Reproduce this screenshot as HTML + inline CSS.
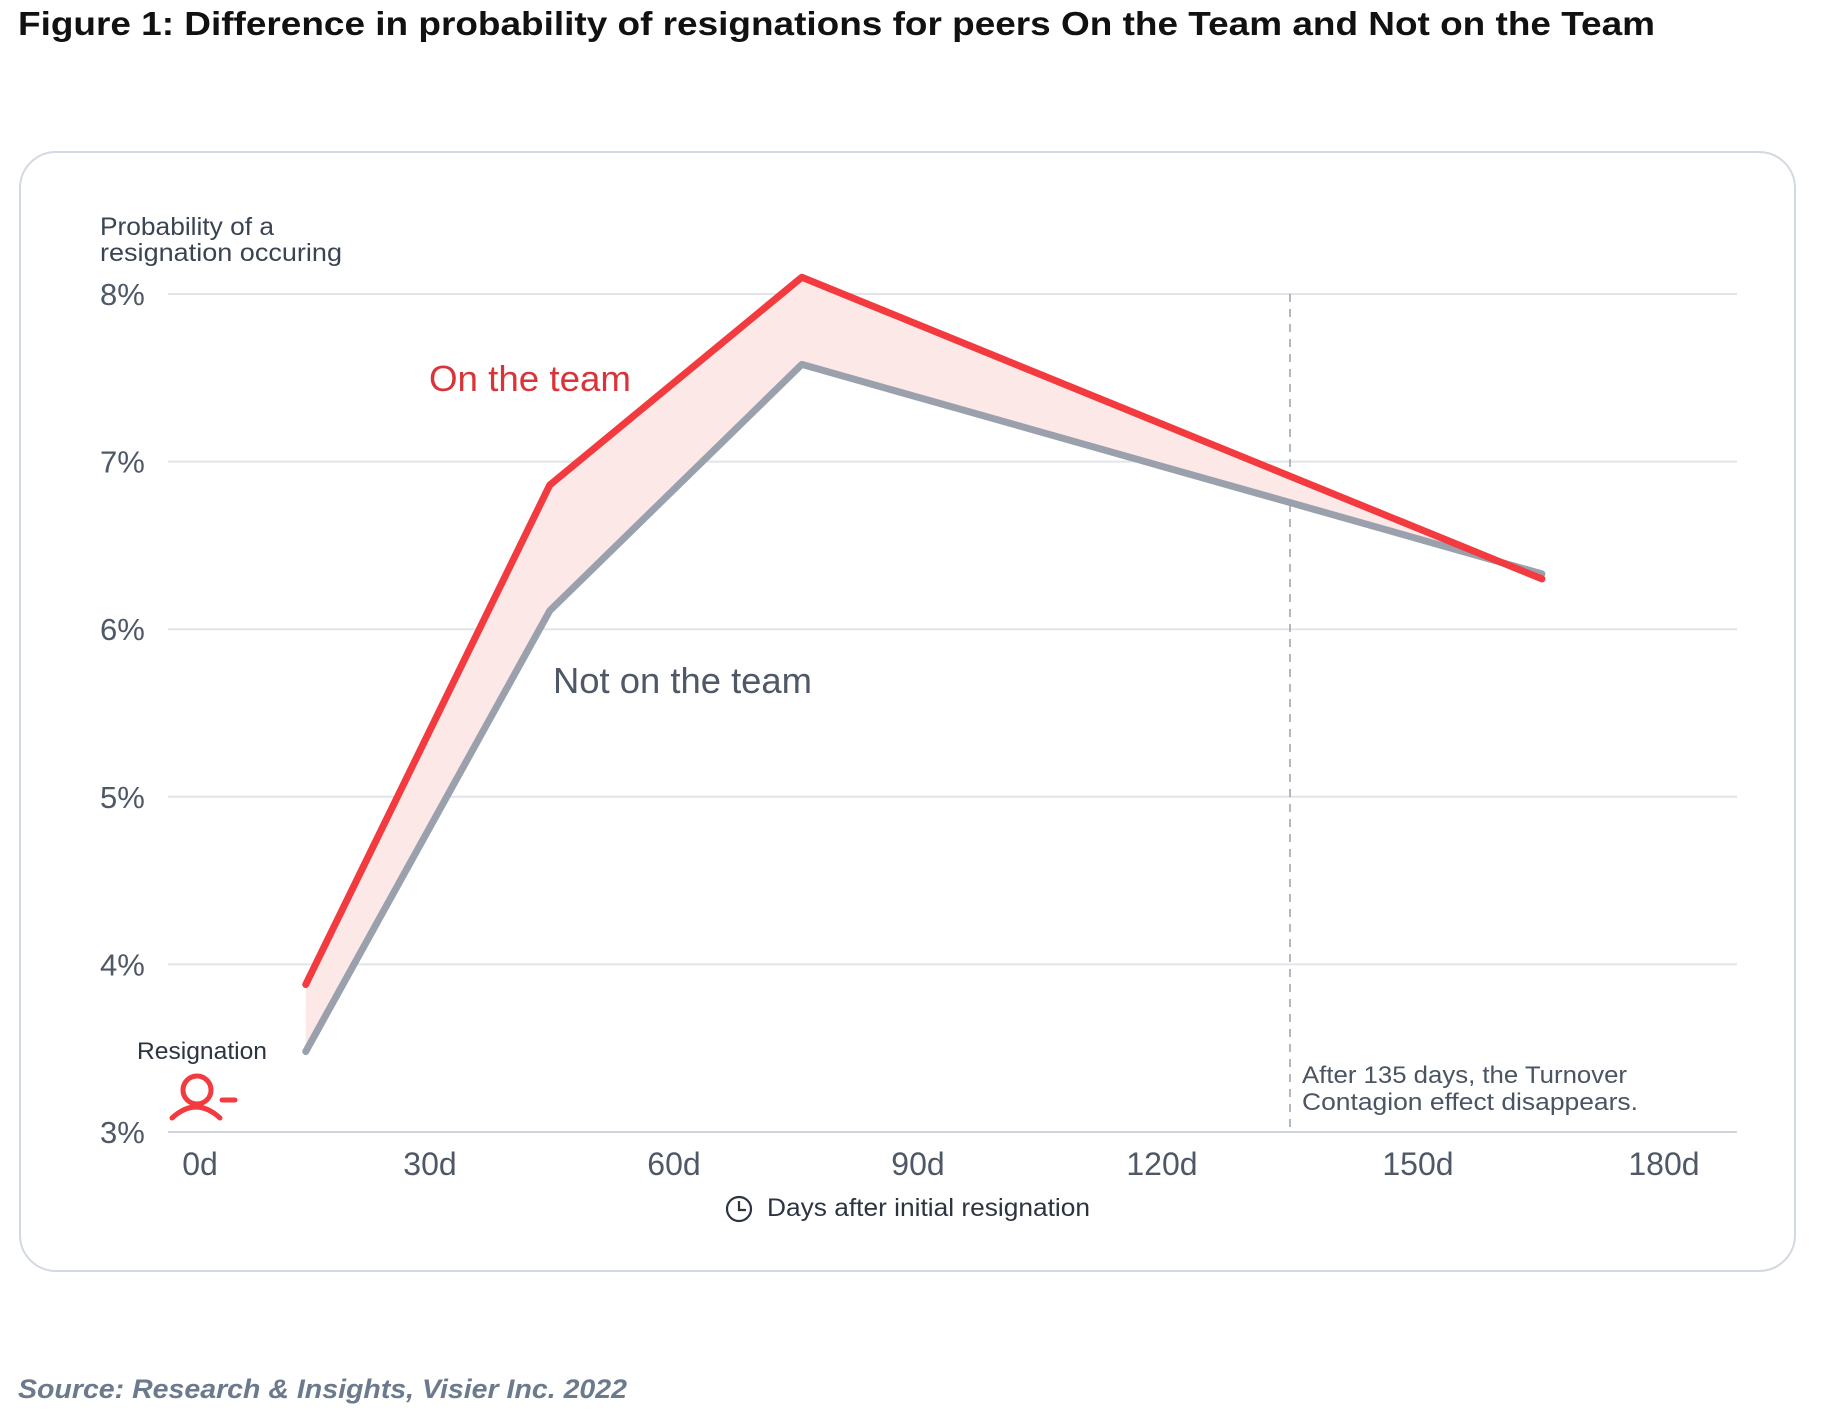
<!DOCTYPE html>
<html><head><meta charset="utf-8"><style>
html,body{margin:0;padding:0;background:#fff;}
body{width:1844px;height:1424px;position:relative;overflow:hidden;font-family:"Liberation Sans",sans-serif;}
</style></head><body>
<svg width="1844" height="1424" viewBox="0 0 1844 1424" style="position:absolute;left:0;top:0">
<text x="18" y="35" font-size="33" font-weight="bold" fill="#111" textLength="1637" lengthAdjust="spacingAndGlyphs">Figure 1: Difference in probability of resignations for peers On the Team and Not on the Team</text>
<rect x="20" y="152" width="1775" height="1119" rx="36" fill="#fff" stroke="#d3d9e0" stroke-width="2"/>
<text font-size="25" fill="#3a4452"><tspan x="100" y="235" textLength="174" lengthAdjust="spacingAndGlyphs">Probability of a</tspan><tspan x="100" y="261" textLength="242" lengthAdjust="spacingAndGlyphs">resignation occuring</tspan></text>
<g id="grid"></g>
<g id="yticks"></g>
<g id="xticks"></g>
<line x1="1290" y1="294" x2="1290" y2="1132" stroke="#9aa0a8" stroke-width="1.5" stroke-dasharray="8,7"/>
<polygon id="band" fill="#fde8e8"/>
<polyline id="gray" fill="none" stroke="#9aa1ac" stroke-width="7" stroke-linejoin="round" stroke-linecap="round"/>
<polyline id="red" fill="none" stroke="#f23a3f" stroke-width="7" stroke-linejoin="round" stroke-linecap="round"/>
<text x="429" y="391" font-size="36" fill="#d9343a" textLength="202" lengthAdjust="spacingAndGlyphs">On the team</text>
<text x="553" y="693" font-size="36" fill="#4e5866" textLength="259" lengthAdjust="spacingAndGlyphs">Not on the team</text>
<text x="137" y="1059" font-size="24" fill="#2c3440" textLength="130" lengthAdjust="spacingAndGlyphs">Resignation</text>
<g fill="none" stroke="#f23a3f" stroke-width="5" stroke-linecap="round">
<circle cx="197" cy="1090" r="14"/><path d="M172,1118 Q196,1096 220,1118"/><line x1="222" y1="1100" x2="235" y2="1100"/></g>
<text font-size="24" fill="#4a5462"><tspan x="1302" y="1083" textLength="325" lengthAdjust="spacingAndGlyphs">After 135 days, the Turnover</tspan><tspan x="1302" y="1110" textLength="336" lengthAdjust="spacingAndGlyphs">Contagion effect disappears.</tspan></text>
<g fill="none" stroke="#2c3440" stroke-width="2.2"><circle cx="739" cy="1209" r="12"/><path d="M739,1201 V1210 H746"/></g>
<text x="767" y="1216" font-size="25" fill="#2c3440" textLength="323" lengthAdjust="spacingAndGlyphs">Days after initial resignation</text>
<text x="18" y="1398" font-size="27" font-style="italic" font-weight="bold" fill="#6b7a8c" textLength="609" lengthAdjust="spacingAndGlyphs">Source: Research &amp; Insights, Visier Inc. 2022</text>
</svg>
<script>
const yTicks=[3,4,5,6,7,8];
const xTicks=[0,30,60,90,120,150,180];
const days=[13,43,74,165];
const onTeam=[3.88,6.86,8.10,6.30];
const notOnTeam=[3.48,6.11,7.58,6.33];
const X=d=>200+d*8.133;
const Y=p=>1132-(p-3)*167.6;
const NS='http://www.w3.org/2000/svg';
const grid=document.getElementById('grid'),yt=document.getElementById('yticks'),xt=document.getElementById('xticks');
yTicks.forEach(v=>{
 const l=document.createElementNS(NS,'line');
 l.setAttribute('x1',168);l.setAttribute('x2',1737);l.setAttribute('y1',Y(v));l.setAttribute('y2',Y(v));
 l.setAttribute('stroke',v===3?'#cfd4da':'#e1e5e9');l.setAttribute('stroke-width',2);
 
 
 grid.appendChild(l);
 const t=document.createElementNS(NS,'text');
 t.setAttribute('x',100);t.setAttribute('y',Y(v)+11);t.setAttribute('font-size',31);t.setAttribute('fill','#4e5866');
 t.textContent=v+'%';
 
 
 yt.appendChild(t);
});
xTicks.forEach(v=>{
 const t=document.createElementNS(NS,'text');
 t.setAttribute('x',X(v)-(v>0&&v<150?14:(v===150?2:0)));t.setAttribute('y',1175);t.setAttribute('font-size',32);t.setAttribute('fill','#4e5866');t.setAttribute('text-anchor','middle');
 t.textContent=v+'d';
 
 
 xt.appendChild(t);
});
const pr=days.map((d,i)=>X(d)+','+Y(onTeam[i]));
const pg=days.map((d,i)=>X(d)+','+Y(notOnTeam[i]));
document.getElementById('red').setAttribute('points',pr.join(' '));
document.getElementById('gray').setAttribute('points',pg.join(' '));
document.getElementById('band').setAttribute('points',pr.concat(pg.slice().reverse()).join(' '));
</script>
</body></html>
